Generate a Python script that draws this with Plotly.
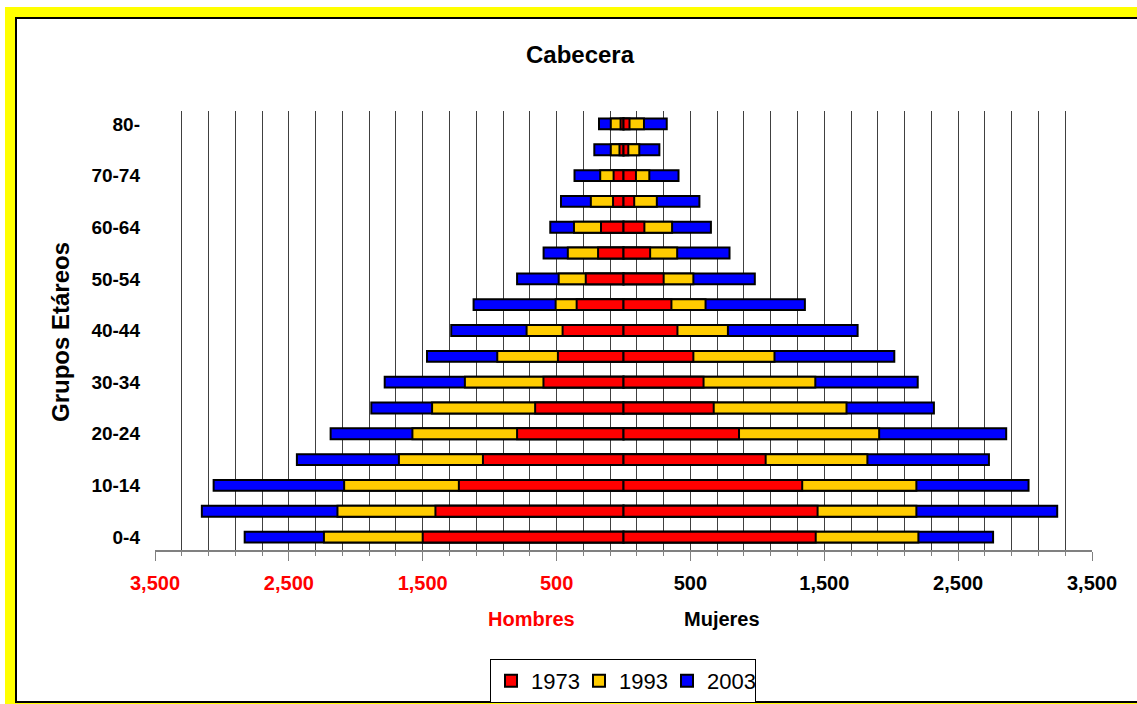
import plotly.graph_objects as go

W, H = 1137, 704

age_groups = ['0-4', '5-9', '10-14', '15-19', '20-24', '25-29', '30-34', '35-39',
              '40-44', '45-49', '50-54', '55-59', '60-64', '65-69', '70-74', '75-79', '80-']
age_labels_shown = ['0-4', '10-14', '20-24', '30-34', '40-44', '50-54', '60-64', '70-74', '80-']

men_1973 = [1500, 1405, 1230, 1050, 795, 660, 598, 490, 455, 350, 282, 190, 168, 78, 74, 30, 22]
men_1993 = [2238, 2137, 2087, 1678, 1577, 1430, 1185, 943, 724, 507, 484, 416, 370, 244, 174, 95, 95]
men_2003 = [2830, 3150, 3062, 2440, 2188, 1884, 1784, 1468, 1287, 1120, 795, 597, 547, 467, 366, 218, 183]

women_1973 = [1436, 1450, 1335, 1062, 863, 674, 598, 522, 403, 358, 300, 199, 156, 80, 93, 36, 45]
women_1993 = [2203, 2188, 2188, 1822, 1910, 1666, 1433, 1128, 780, 613, 522, 401, 363, 249, 193, 118, 153]
women_2003 = [2761, 3240, 3026, 2730, 2859, 2319, 2198, 2023, 1749, 1355, 981, 792, 653, 567, 411, 268, 323]

x_tick_vals = [-3500, -2500, -1500, -500, 500, 1500, 2500, 3500]
x_tick_text = ['3,500', '2,500', '1,500', '500', '500', '1,500', '2,500', '3,500']

colors = {'1973': '#FF0000', '1993': '#FFCC00', '2003': '#0000FF'}
FONT = 'Liberation Sans, Arial, sans-serif'

series = [('2003', men_2003, women_2003), ('1993', men_1993, women_1993), ('1973', men_1973, women_1973)]

fig = go.Figure()
for name, men, women in series:
    fig.add_trace(go.Bar(
        y=age_groups, x=[-v for v in men], orientation='h', name=name,
        marker=dict(color=colors[name], line=dict(color='black', width=2)),
        width=0.42, legendgroup=name, showlegend=True))
    fig.add_trace(go.Bar(
        y=age_groups, x=women, orientation='h', name=name,
        marker=dict(color=colors[name], line=dict(color='black', width=2)),
        width=0.42, legendgroup=name, showlegend=False))

tick_text_styled = []
for v, t in zip(x_tick_vals, x_tick_text):
    if v < 0:
        tick_text_styled.append('<span style="color:#FF0000">' + t + '</span>')
    else:
        tick_text_styled.append(t)

def px(x):
    return x / W

def py(y):
    return 1 - y / H

shapes = [
    dict(type='rect', xref='paper', yref='paper', x0=px(5), x1=px(W + 20), y0=py(H + 20), y1=py(7),
         fillcolor='#FFFF00', line=dict(width=0), layer='below'),
    dict(type='rect', xref='paper', yref='paper', x0=px(16), x1=px(W + 20), y0=py(702), y1=py(18),
         fillcolor='white', line=dict(color='black', width=2), layer='below'),
]

fig.update_layout(
    template='none',
    width=W, height=H,
    margin=dict(l=0, r=0, t=0, b=0, pad=0, autoexpand=False),
    paper_bgcolor='white', plot_bgcolor='rgba(0,0,0,0)',
    barmode='overlay',
    font=dict(family=FONT, color='black'),
    title=dict(text='<b>Cabecera</b>', x=px(580), y=py(55), xanchor='center', yanchor='middle',
               font=dict(size=24, family=FONT, color='black')),
    xaxis=dict(
        domain=[px(155), px(1092)], range=[-3500, 3500], automargin=False,
        tickmode='array', tickvals=x_tick_vals, ticktext=tick_text_styled,
        tickfont=dict(size=20, family=FONT, color='black', weight='bold'),
        ticks='outside', ticklen=9, tickcolor='#808080', tickwidth=1,
        ticklabelstandoff=5,
        showgrid=True, gridcolor='#404040', gridwidth=1,
        zeroline=False, showline=True, linecolor='#808080', linewidth=2,
        minor=dict(tick0=-3500, dtick=200, showgrid=True, gridcolor='#404040', gridwidth=1,
                   ticks='outside', ticklen=4, tickcolor='#808080'),
        fixedrange=True,
    ),
    yaxis=dict(
        domain=[py(550), py(111)], type='category', categoryorder='array', categoryarray=age_groups,
        range=[-0.5, len(age_groups) - 0.5], automargin=False,
        tickmode='array', tickvals=age_labels_shown, ticktext=age_labels_shown,
        tickfont=dict(size=19, family=FONT, color='black', weight='bold'),
        ticks='', ticklabelstandoff=14,
        showgrid=False, zeroline=False, showline=False, fixedrange=True,
    ),
    legend=dict(
        orientation='h', x=px(623), y=py(659), xanchor='center', yanchor='top',
        traceorder='reversed', bordercolor='black', borderwidth=1, bgcolor='white',
        font=dict(size=22, family=FONT, color='black'), itemwidth=30,
        entrywidth=43, entrywidthmode='pixels',
        tracegroupgap=0, itemclick=False,
    ),
    shapes=shapes,
    annotations=[
        dict(text='<b>Grupos Etáreos</b>', x=px(60), y=py(332), xref='paper', yref='paper',
             textangle=-90, showarrow=False, font=dict(size=24, family=FONT, color='black'),
             xanchor='center', yanchor='middle'),
        dict(text='<b>Hombres</b>', x=px(531), y=py(619), xref='paper', yref='paper',
             showarrow=False, font=dict(size=20, family=FONT, color='#FF0000'),
             xanchor='center', yanchor='middle'),
        dict(text='<b>Mujeres</b>', x=px(722), y=py(619), xref='paper', yref='paper',
             showarrow=False, font=dict(size=20, family=FONT, color='black'),
             xanchor='center', yanchor='middle'),
    ],
)

fig.write_html('out.html', config={'displayModeBar': False, 'staticPlot': True},
               post_script="document.body.style.margin='0px';document.body.style.overflow='hidden';")
